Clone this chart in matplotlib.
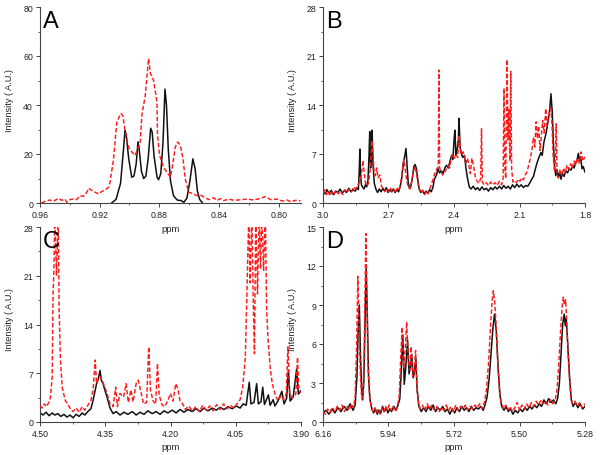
import matplotlib
matplotlib.use('Agg')
import matplotlib.pyplot as plt
from matplotlib.ticker import AutoMinorLocator
import numpy as np

plt.rcParams['font.family'] = ['Liberation Sans', 'DejaVu Sans']

# ---------------- data (ppm, intensity) ----------------
# Panel A
a_black = np.array([
    (0.912, 0), (0.909, 1.5), (0.906, 8), (0.904, 22), (0.903, 29.5), (0.9022, 28),
    (0.9005, 18), (0.8985, 10.5), (0.897, 11), (0.8955, 16), (0.8943, 25), (0.8935, 22),
    (0.892, 13), (0.8905, 10), (0.889, 11), (0.8875, 18), (0.8858, 30.5), (0.8848, 29),
    (0.8835, 19), (0.8815, 10.5), (0.8805, 9.5), (0.879, 12), (0.8775, 25), (0.8762, 46.5),
    (0.8752, 40), (0.874, 22), (0.8725, 9), (0.8705, 3), (0.868, 1.2), (0.8655, 1),
    (0.8635, 0.3), (0.8615, 2), (0.8595, 9), (0.8575, 18), (0.856, 14), (0.8545, 5),
    (0.853, 1.5), (0.851, 0)])

a_red = np.array([
    (0.959, 0), (0.9555, 1.0), (0.9533, 1.2), (0.951, 0.7), (0.9477, 1.9), (0.9454, 1.1),
    (0.9432, 1.6), (0.9421, 0.3), (0.9398, 1.4), (0.9376, 1.6), (0.9354, 1.4), (0.9331, 3.0),
    (0.9309, 2.7), (0.9286, 4.4), (0.9275, 6.0), (0.9253, 5.2), (0.923, 4.4), (0.9208, 3.7),
    (0.9186, 4.7), (0.9163, 5.3), (0.9141, 6.4), (0.913, 8.5), (0.9107, 18), (0.9085, 33.1),
    (0.9058, 36.5), (0.9044, 35.6), (0.9029, 29), (0.9006, 22.8), (0.8984, 20.8),
    (0.8962, 19.4), (0.8939, 23), (0.8928, 24.9), (0.8917, 35.8), (0.8894, 44), (0.8872, 59),
    (0.886, 52.9), (0.8839, 50.2), (0.8816, 41.4), (0.8812, 27.6), (0.8798, 19.4),
    (0.8771, 14.5), (0.8749, 12.6), (0.8726, 10.5), (0.8715, 13.9), (0.8693, 22.8),
    (0.8677, 24.9), (0.8659, 23.5), (0.8641, 18), (0.8626, 9.8), (0.8603, 4.4), (0.8575, 3.8),
    (0.8547, 3.0), (0.8525, 3.3), (0.8491, 2.1), (0.8469, 1.4), (0.8435, 2.1), (0.8413, 1.0),
    (0.839, 1.8), (0.8368, 1.0), (0.8334, 1.6), (0.8301, 1.1), (0.8256, 1.3), (0.8211, 1.6),
    (0.8166, 1.2), (0.8122, 1.9), (0.8088, 2.6), (0.8054, 1.4), (0.801, 1.6), (0.7976, 0.8),
    (0.7942, 1.2), (0.792, 0.5), (0.7886, 1.1), (0.7853, 0.9)])

# Panel B
b_black = np.array([
    (3.000, 1.6), (2.990, 1.3), (2.982, 1.9), (2.972, 1.4), (2.962, 1.8), (2.952, 1.2),
    (2.942, 1.7), (2.932, 1.5), (2.922, 2.0), (2.912, 1.4), (2.902, 1.8), (2.892, 1.5),
    (2.882, 2.1), (2.872, 1.6), (2.862, 1.9), (2.852, 1.7), (2.845, 2.2), (2.838, 1.9),
    (2.834, 4.5), (2.831, 7.7), (2.828, 4.0), (2.824, 2.6), (2.819, 2.3), (2.812, 2.0),
    (2.806, 2.6), (2.800, 2.3), (2.794, 3.2), (2.789, 7.0), (2.786, 10.2), (2.782, 5.0),
    (2.778, 6.5), (2.775, 10.4), (2.771, 5.5), (2.765, 2.8), (2.758, 2.0), (2.750, 1.5),
    (2.742, 2.0), (2.734, 1.6), (2.726, 2.1), (2.718, 1.7), (2.710, 2.2), (2.702, 1.5),
    (2.694, 1.9), (2.686, 1.6), (2.678, 2.0), (2.670, 1.5), (2.662, 1.9), (2.654, 1.6),
    (2.646, 2.4), (2.640, 3.4), (2.632, 5.8), (2.625, 6.8), (2.620, 7.8), (2.615, 5.5),
    (2.610, 3.0), (2.604, 2.1), (2.598, 2.4), (2.591, 3.5), (2.584, 5.2), (2.578, 5.5),
    (2.572, 4.9), (2.566, 3.4), (2.560, 2.0), (2.552, 1.5), (2.544, 1.8), (2.536, 1.3),
    (2.528, 1.7), (2.520, 1.4), (2.512, 1.9), (2.504, 1.6), (2.496, 2.3), (2.490, 3.4),
    (2.480, 4.0), (2.474, 4.9), (2.466, 4.3), (2.458, 4.6), (2.450, 4.2), (2.442, 5.0),
    (2.434, 5.4), (2.426, 5.0), (2.418, 6.0), (2.411, 6.8), (2.405, 6.2), (2.400, 8.9),
    (2.396, 10.4), (2.391, 6.8), (2.386, 7.5), (2.380, 9.0), (2.377, 12.1), (2.372, 8.0),
    (2.366, 7.0), (2.360, 6.5), (2.352, 6.8), (2.345, 4.9), (2.338, 3.5), (2.330, 2.3),
    (2.322, 2.0), (2.312, 2.4), (2.302, 1.9), (2.292, 2.2), (2.282, 1.8), (2.272, 2.3),
    (2.262, 1.9), (2.252, 2.1), (2.242, 1.7), (2.232, 2.2), (2.222, 1.9), (2.212, 2.3),
    (2.202, 2.0), (2.192, 2.4), (2.182, 2.0), (2.172, 2.5), (2.162, 2.1), (2.152, 2.4),
    (2.142, 2.0), (2.132, 2.6), (2.122, 2.2), (2.112, 2.7), (2.102, 2.3), (2.092, 2.6),
    (2.082, 2.2), (2.072, 2.5), (2.062, 2.4), (2.052, 2.9), (2.044, 3.4), (2.036, 3.8),
    (2.028, 4.8), (2.020, 5.7), (2.010, 6.6), (2.002, 7.2), (1.996, 6.8), (1.988, 8.7),
    (1.978, 10.0), (1.970, 11.5), (1.962, 13.2), (1.956, 15.6), (1.950, 13.0), (1.945, 8.7),
    (1.940, 5.5), (1.934, 3.9), (1.928, 4.8), (1.922, 3.6), (1.916, 4.4), (1.910, 3.4),
    (1.904, 4.2), (1.896, 3.8), (1.888, 4.6), (1.880, 4.3), (1.872, 4.9), (1.864, 4.7),
    (1.856, 5.3), (1.850, 5.0), (1.843, 5.7), (1.836, 6.2), (1.830, 7.1), (1.825, 6.0),
    (1.820, 6.6), (1.814, 4.9), (1.808, 5.2), (1.800, 4.4)])

b_red = np.array([
    (3.000, 1.4), (2.992, 1.9), (2.984, 1.2), (2.976, 1.7), (2.968, 1.0), (2.960, 1.6),
    (2.950, 1.2), (2.940, 1.8), (2.930, 1.3), (2.920, 1.7), (2.910, 1.2), (2.900, 1.9),
    (2.890, 1.5), (2.880, 2.0), (2.870, 1.6), (2.860, 2.3), (2.850, 2.0), (2.840, 2.6),
    (2.832, 3.0), (2.824, 4.0), (2.817, 6.1), (2.812, 4.5), (2.805, 2.8), (2.798, 2.4),
    (2.790, 3.0), (2.782, 5.5), (2.776, 8.9), (2.772, 7.5), (2.766, 4.5), (2.760, 3.9),
    (2.754, 5.0), (2.748, 3.6), (2.740, 4.0), (2.732, 2.4), (2.724, 2.0), (2.716, 1.6),
    (2.708, 2.1), (2.700, 1.7), (2.692, 2.2), (2.684, 1.6), (2.676, 2.0), (2.668, 1.5),
    (2.660, 2.1), (2.652, 1.8), (2.644, 2.9), (2.636, 4.6), (2.630, 6.2), (2.624, 5.0),
    (2.617, 3.3), (2.610, 2.3), (2.602, 2.0), (2.595, 2.8), (2.588, 4.2), (2.580, 5.2),
    (2.574, 4.6), (2.566, 3.0), (2.558, 2.0), (2.550, 1.4), (2.542, 1.8), (2.534, 1.2),
    (2.526, 1.7), (2.518, 1.3), (2.510, 2.1), (2.502, 2.8), (2.494, 3.6), (2.486, 4.4),
    (2.478, 4.9), (2.472, 5.2), (2.469, 19.0), (2.466, 5.0), (2.460, 4.6), (2.452, 4.0),
    (2.444, 4.3), (2.436, 4.8), (2.428, 5.3), (2.420, 5.0), (2.414, 6.2), (2.406, 7.0),
    (2.398, 6.4), (2.390, 6.9), (2.383, 6.5), (2.377, 9.7), (2.371, 7.5), (2.364, 6.9),
    (2.358, 7.3), (2.352, 6.7), (2.345, 5.7), (2.338, 6.4), (2.330, 5.0), (2.325, 4.2),
    (2.318, 6.4), (2.310, 5.2), (2.302, 3.7), (2.294, 3.1), (2.286, 2.8), (2.278, 3.5),
    (2.274, 10.6), (2.270, 3.0), (2.262, 2.6), (2.252, 2.9), (2.242, 2.5), (2.232, 3.0),
    (2.222, 2.6), (2.212, 2.9), (2.202, 2.5), (2.192, 3.1), (2.182, 2.6), (2.175, 3.5),
    (2.171, 16.4), (2.167, 5.0), (2.163, 3.5), (2.157, 20.5), (2.153, 9.0), (2.149, 13.5),
    (2.144, 6.0), (2.140, 18.8), (2.136, 4.9), (2.130, 3.0), (2.122, 3.2), (2.114, 2.9),
    (2.106, 3.4), (2.098, 3.1), (2.090, 3.6), (2.082, 3.3), (2.074, 4.0), (2.066, 4.4),
    (2.058, 5.4), (2.050, 6.4), (2.042, 7.8), (2.036, 9.4), (2.030, 8.0), (2.024, 11.6),
    (2.018, 9.2), (2.012, 11.0), (2.006, 7.5), (2.000, 9.5), (1.994, 11.8), (1.987, 10.0),
    (1.980, 13.5), (1.974, 11.0), (1.966, 12.5), (1.958, 13.5), (1.952, 12.0), (1.946, 6.8),
    (1.940, 4.5), (1.936, 6.0), (1.932, 11.3), (1.928, 4.2), (1.922, 3.6), (1.914, 4.8),
    (1.906, 3.9), (1.898, 5.0), (1.890, 4.4), (1.882, 5.4), (1.874, 4.8), (1.866, 5.6),
    (1.858, 5.0), (1.850, 6.0), (1.842, 5.4), (1.834, 6.4), (1.826, 5.7), (1.818, 7.3),
    (1.810, 6.0), (1.800, 6.6)])

# Panel C
c_black = np.array([
    (4.500, 1.3), (4.493, 1.0), (4.486, 1.4), (4.479, 0.9), (4.472, 1.3), (4.466, 1.0),
    (4.459, 1.2), (4.452, 0.8), (4.445, 1.1), (4.438, 0.7), (4.431, 1.0), (4.424, 0.6),
    (4.417, 1.1), (4.410, 0.8), (4.403, 1.3), (4.397, 1.0), (4.390, 1.5), (4.383, 1.9),
    (4.378, 3.1), (4.374, 4.3), (4.370, 5.5), (4.366, 6.2), (4.362, 7.4), (4.359, 6.0),
    (4.355, 5.5), (4.351, 4.6), (4.346, 3.6), (4.339, 2.0), (4.332, 1.2), (4.325, 1.5),
    (4.316, 1.0), (4.307, 1.4), (4.298, 1.1), (4.288, 1.5), (4.279, 1.0), (4.270, 1.4),
    (4.261, 1.1), (4.252, 1.6), (4.242, 1.2), (4.233, 1.5), (4.224, 1.1), (4.215, 1.6),
    (4.206, 1.3), (4.196, 1.7), (4.187, 1.3), (4.178, 1.8), (4.169, 1.4), (4.160, 1.8),
    (4.150, 1.5), (4.141, 1.9), (4.132, 1.5), (4.123, 2.0), (4.114, 1.6), (4.104, 2.0),
    (4.095, 1.7), (4.086, 2.1), (4.077, 1.8), (4.068, 2.2), (4.058, 1.9), (4.049, 2.3),
    (4.040, 2.0), (4.033, 2.6), (4.026, 2.4), (4.019, 5.7), (4.015, 2.6), (4.008, 2.8),
    (4.002, 5.5), (3.998, 2.6), (3.992, 2.9), (3.988, 5.0), (3.984, 2.5), (3.975, 3.9),
    (3.971, 2.4), (3.964, 3.2), (3.960, 2.3), (3.953, 3.0), (3.944, 4.4), (3.939, 2.6),
    (3.933, 3.4), (3.929, 7.4), (3.925, 3.0), (3.918, 3.6), (3.910, 7.6), (3.906, 4.0),
    (3.900, 4.5)])

c_red = np.array([
    (4.500, 2.4), (4.495, 2.0), (4.490, 2.6), (4.485, 2.2), (4.480, 2.8), (4.476, 3.5),
    (4.472, 6.5), (4.470, 18.4), (4.468, 21.8), (4.466, 30), (4.462, 21.0), (4.458, 30),
    (4.456, 16.0), (4.453, 8.9), (4.449, 5.0), (4.442, 3.1), (4.431, 2.0), (4.424, 1.5),
    (4.417, 2.0), (4.410, 1.4), (4.403, 2.2), (4.397, 1.7), (4.390, 2.4), (4.383, 3.1),
    (4.378, 4.6), (4.373, 8.9), (4.370, 5.5), (4.366, 6.2), (4.361, 6.5), (4.356, 5.8),
    (4.351, 5.0), (4.346, 4.1), (4.339, 2.6), (4.332, 2.2), (4.326, 5.0), (4.322, 2.2),
    (4.316, 4.1), (4.308, 3.6), (4.302, 5.5), (4.297, 2.8), (4.291, 4.6), (4.286, 2.9),
    (4.279, 5.5), (4.274, 6.0), (4.268, 4.3), (4.262, 2.6), (4.255, 2.8), (4.250, 10.8),
    (4.246, 4.6), (4.240, 3.0), (4.234, 2.6), (4.230, 8.4), (4.226, 3.9), (4.220, 2.5),
    (4.213, 2.2), (4.206, 3.1), (4.200, 4.1), (4.194, 3.0), (4.188, 5.5), (4.183, 4.8),
    (4.178, 3.0), (4.172, 2.6), (4.166, 1.8), (4.158, 2.3), (4.150, 1.6), (4.142, 2.2),
    (4.134, 1.5), (4.126, 2.4), (4.118, 1.7), (4.110, 2.3), (4.102, 1.6), (4.094, 2.5),
    (4.086, 1.8), (4.078, 2.6), (4.070, 1.9), (4.062, 2.4), (4.054, 2.0), (4.046, 2.7),
    (4.040, 3.2), (4.034, 5.0), (4.028, 9.3), (4.024, 19.4), (4.020, 30), (4.017, 20.0),
    (4.013, 30), (4.010, 18.0), (4.007, 9.8), (4.004, 30), (4.000, 18.4), (3.996, 30),
    (3.993, 22.0), (3.990, 30), (3.986, 21.8), (3.982, 30), (3.979, 16.0), (3.976, 12.2),
    (3.971, 7.9), (3.966, 5.5), (3.960, 4.1), (3.953, 3.0), (3.946, 3.8), (3.940, 3.2),
    (3.934, 4.0), (3.930, 10.8), (3.926, 4.0), (3.920, 3.5), (3.912, 4.0), (3.908, 9.3),
    (3.905, 4.5), (3.900, 4.2)])

# Panel D
d_black = np.array([
    (6.160, 0.7), (6.150, 0.9), (6.140, 0.6), (6.130, 1.0), (6.120, 0.7), (6.110, 1.1),
    (6.100, 0.8), (6.089, 1.2), (6.079, 0.9), (6.069, 1.4), (6.059, 0.9), (6.052, 1.3),
    (6.046, 3.5), (6.042, 7.0), (6.038, 9.0), (6.034, 5.0), (6.030, 2.5), (6.027, 1.7),
    (6.023, 3.0), (6.019, 7.5), (6.015, 11.8), (6.011, 8.0), (6.007, 3.5), (6.002, 1.7),
    (5.996, 1.0), (5.990, 0.7), (5.984, 1.0), (5.978, 0.6), (5.972, 0.9), (5.966, 0.7),
    (5.960, 1.2), (5.954, 0.8), (5.948, 1.1), (5.942, 0.7), (5.936, 1.0), (5.930, 0.8),
    (5.922, 1.2), (5.915, 0.9), (5.908, 1.3), (5.902, 1.8), (5.897, 4.0), (5.892, 6.7),
    (5.887, 2.9), (5.881, 4.5), (5.876, 6.3), (5.871, 3.7), (5.866, 4.3), (5.862, 5.2),
    (5.857, 3.4), (5.853, 3.8), (5.848, 4.9), (5.844, 2.5), (5.838, 1.2), (5.830, 0.8),
    (5.822, 1.1), (5.814, 0.8), (5.806, 1.2), (5.798, 0.9), (5.790, 1.3), (5.782, 0.8),
    (5.774, 1.1), (5.766, 0.9), (5.758, 1.2), (5.750, 0.8), (5.742, 1.0), (5.734, 0.6),
    (5.726, 1.0), (5.718, 0.7), (5.710, 1.1), (5.702, 0.8), (5.694, 1.2), (5.686, 0.9),
    (5.678, 1.1), (5.670, 0.8), (5.662, 1.2), (5.654, 0.9), (5.646, 1.1), (5.638, 1.0),
    (5.630, 1.2), (5.622, 0.9), (5.616, 1.3), (5.609, 1.9), (5.602, 3.3), (5.595, 5.5),
    (5.589, 7.3), (5.584, 8.3), (5.578, 7.0), (5.572, 4.3), (5.566, 2.2), (5.560, 1.2),
    (5.552, 0.9), (5.545, 1.2), (5.538, 0.8), (5.530, 1.0), (5.522, 0.6), (5.514, 0.9),
    (5.506, 0.7), (5.498, 1.0), (5.490, 0.8), (5.482, 1.1), (5.474, 0.9), (5.466, 1.2),
    (5.458, 1.0), (5.450, 1.3), (5.442, 1.1), (5.434, 1.4), (5.426, 1.2), (5.418, 1.7),
    (5.410, 1.4), (5.402, 1.8), (5.394, 1.5), (5.386, 1.7), (5.378, 1.4), (5.372, 1.8),
    (5.366, 3.0), (5.360, 5.5), (5.355, 7.5), (5.350, 8.3), (5.346, 7.4), (5.343, 8.0),
    (5.338, 6.0), (5.332, 3.5), (5.326, 1.7), (5.320, 1.2), (5.312, 1.5), (5.304, 1.1),
    (5.296, 1.4), (5.288, 1.0), (5.280, 1.2)])

d_red = np.array([
    (6.160, 0.8), (6.152, 0.6), (6.144, 1.0), (6.136, 0.7), (6.128, 1.1), (6.120, 0.8),
    (6.112, 1.2), (6.104, 0.9), (6.096, 1.3), (6.088, 0.8), (6.080, 1.2), (6.072, 0.9),
    (6.064, 1.4), (6.057, 1.1), (6.052, 2.0), (6.047, 6.0), (6.043, 11.2), (6.040, 8.5),
    (6.035, 4.0), (6.030, 1.8), (6.026, 2.0), (6.022, 5.0), (6.018, 11.0), (6.016, 14.5),
    (6.013, 10.0), (6.009, 4.5), (6.004, 2.0), (5.998, 1.2), (5.992, 0.8), (5.986, 1.1),
    (5.980, 0.7), (5.974, 1.0), (5.968, 0.6), (5.962, 1.1), (5.956, 0.8), (5.950, 1.2),
    (5.944, 0.9), (5.938, 1.3), (5.932, 0.9), (5.925, 1.2), (5.918, 0.8), (5.911, 1.1),
    (5.904, 2.0), (5.899, 5.0), (5.894, 7.3), (5.889, 4.2), (5.884, 5.5), (5.879, 7.7),
    (5.874, 5.0), (5.869, 4.0), (5.864, 5.8), (5.859, 3.5), (5.854, 3.8), (5.849, 5.5),
    (5.845, 3.0), (5.840, 1.6), (5.834, 1.0), (5.826, 1.3), (5.818, 0.9), (5.810, 1.4),
    (5.802, 1.0), (5.794, 1.3), (5.786, 0.9), (5.778, 1.2), (5.770, 0.8), (5.762, 1.1),
    (5.754, 0.9), (5.746, 1.3), (5.738, 0.9), (5.730, 1.2), (5.722, 0.8), (5.714, 1.3),
    (5.706, 0.9), (5.698, 1.2), (5.690, 1.0), (5.682, 1.3), (5.674, 0.9), (5.666, 1.2),
    (5.658, 1.0), (5.650, 1.3), (5.642, 1.1), (5.634, 1.4), (5.626, 1.0), (5.618, 1.5),
    (5.611, 2.5), (5.604, 4.5), (5.597, 7.5), (5.592, 9.3), (5.588, 10.1), (5.583, 9.2),
    (5.578, 7.2), (5.572, 4.0), (5.566, 2.0), (5.560, 1.4), (5.553, 1.0), (5.546, 1.3),
    (5.539, 0.9), (5.532, 1.2), (5.524, 0.8), (5.516, 1.1), (5.508, 1.5), (5.500, 0.9),
    (5.492, 1.3), (5.484, 1.0), (5.476, 1.4), (5.468, 1.1), (5.460, 1.5), (5.452, 1.2),
    (5.444, 1.6), (5.436, 1.3), (5.428, 1.7), (5.420, 1.4), (5.412, 1.6), (5.404, 1.3),
    (5.396, 1.7), (5.388, 1.4), (5.380, 1.7), (5.374, 2.5), (5.368, 4.5), (5.362, 7.0),
    (5.357, 8.8), (5.353, 9.6), (5.349, 9.0), (5.345, 9.4), (5.340, 7.0), (5.334, 4.0),
    (5.328, 2.0), (5.322, 1.4), (5.314, 1.6), (5.306, 1.2), (5.298, 1.5), (5.290, 1.1),
    (5.280, 1.4)])

# axis ticks per panel
a_xticks = [0.96, 0.92, 0.88, 0.84, 0.80]
a_yticks = [0, 20, 40, 60, 80]
b_xticks = [3.0, 2.7, 2.4, 2.1, 1.8]
b_yticks = [0, 7, 14, 21, 28]
c_xticks = [4.50, 4.35, 4.20, 4.05, 3.90]
c_yticks = [0, 7, 14, 21, 28]
d_xticks = [6.16, 5.94, 5.72, 5.50, 5.28]
d_yticks = [0, 3, 6, 9, 12, 15]

#%%
fig = plt.figure(figsize=(6, 4.56), dpi=100)

panels = [
    ('A', [40/600, 1-204/456, 261/600, 196/456], a_black, a_red, (0.96, 0.785), (0, 80), a_xticks, a_yticks, '%.2f'),
    ('B', [323/600, 1-204/456, 262/600, 196/456], b_black, b_red, (3.0, 1.8), (0, 28), b_xticks, b_yticks, '%.1f'),
    ('C', [40/600, 1-423/456, 261/600, 195/456], c_black, c_red, (4.50, 3.90), (0, 28), c_xticks, c_yticks, '%.2f'),
    ('D', [323/600, 1-423/456, 262/600, 195/456], d_black, d_red, (6.16, 5.28), (0, 15), d_xticks, d_yticks, '%.2f'),
]

for letter, rect, blk, red, xl, yl, xt, yt, fmt in panels:
    ax = fig.add_axes(rect)
    ax.patch.set_alpha(0)
    ax.plot(red[:, 0], red[:, 1], color='#ff1a1a', lw=1.05, ls=(0, (3, 1.5)), zorder=3)
    ax.plot(blk[:, 0], blk[:, 1], color='#111111', lw=1.1, zorder=2)
    ax.set_xlim(*xl)
    ax.set_ylim(*yl)
    ax.set_xticks(xt)
    ax.set_xticklabels([fmt % v for v in xt])
    ax.set_yticks(yt)
    ax.xaxis.set_minor_locator(AutoMinorLocator(2))
    ax.yaxis.set_minor_locator(AutoMinorLocator(2))
    for s in ['top', 'right']:
        ax.spines[s].set_visible(False)
    for s in ['left', 'bottom']:
        ax.spines[s].set_color('#444444')
        ax.spines[s].set_linewidth(0.8)
    ax.tick_params(which='major', direction='out', length=3, width=0.7,
                   colors='#444444', labelsize=6.3, labelcolor='#222222', pad=2)
    ax.tick_params(which='minor', direction='out', length=1.6, width=0.6, colors='#444444')
    ax.set_xlabel('ppm', fontsize=6.8, color='#222222')
    ax.xaxis.set_label_coords(0.5, -0.105)
    ax.set_ylabel('Intensity ( A.U.)', fontsize=6.6, color='#222222')
    ax.yaxis.set_label_coords(-0.098, 0.53)
    ax.text(0.012, 0.985, letter, transform=ax.transAxes, fontsize=17,
            ha='left', va='top', color='black')

plt.savefig('out.png', dpi=100)
